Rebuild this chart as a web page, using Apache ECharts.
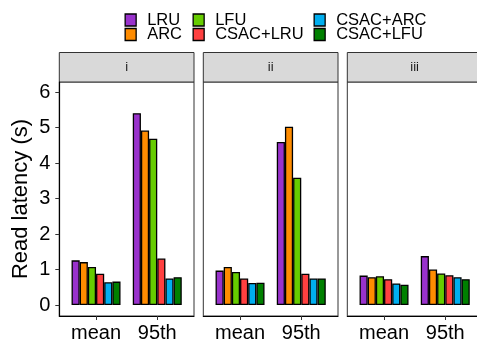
<!DOCTYPE html>
<html>
<head>
<meta charset="utf-8">
<script src="https://cdn.jsdelivr.net/npm/echarts@6/dist/echarts.min.js"></script>
<style>html,body{margin:0;padding:0;background:#fff;overflow:hidden}#c{width:477px;height:342px}</style>
</head>
<body>
<div id="c"></div>
<script>
const categories = ['mean', '95th'];
const panels = ['i', 'ii', 'iii'];
const seriesNames = ['LRU', 'ARC', 'LFU', 'CSAC+LRU', 'CSAC+ARC', 'CSAC+LFU'];
const seriesColors = ['#9932CC', '#FF8C00', '#66CC00', '#FF4040', '#00AEEF', '#008000'];
const yTicks = [0, 1, 2, 3, 4, 5, 6];
// values[panel] = [mean, 95th]
const LRU      = [[1.26, 5.41], [0.97, 4.60], [0.83, 1.38]];
const ARC      = [[1.21, 4.92], [1.07, 5.03], [0.785, 1.00]];
const LFU      = [[1.07, 4.69], [0.93, 3.59], [0.81, 0.89]];
const CSAC_LRU = [[0.88, 1.31], [0.75, 0.88], [0.73, 0.84]];
const CSAC_ARC = [[0.64, 0.75], [0.62, 0.75], [0.61, 0.785]];
const CSAC_LFU = [[0.66, 0.785], [0.63, 0.75], [0.57, 0.73]];
const seriesValues = [LRU, ARC, LFU, CSAC_LRU, CSAC_ARC, CSAC_LFU];

const FONT = 'Liberation Sans';
const panelLeft = [59.3, 203.3, 347.3];
const panelW = 134.7;
const panelTop = 82;
const panelH = 234;
const stripTop = 52.5;
const stripH = 29.5;

const grids = [], xAxes = [], yAxes = [], series = [], graphics = [];
panels.forEach((p, pi) => {
  grids.push({left: panelLeft[pi], top: panelTop, width: panelW, height: panelH,
    outerBoundsMode: 'none', containLabel: false,
    show: true, borderColor: '#333', borderWidth: 1, backgroundColor: '#fff'});
  xAxes.push({type: 'value', gridIndex: pi, min: 0.4, max: 2.6,
    axisLine: {show: true, onZero: false, lineStyle: {color: '#000', width: 1.2}},
    axisTick: {show: true, customValues: [1, 2], length: 4, lineStyle: {color: '#333', width: 1}},
    axisLabel: {show: true, customValues: [1, 2], margin: 7, fontFamily: FONT, fontSize: 20, color: '#000',
      formatter: v => categories[Math.round(v) - 1]},
    splitLine: {show: false}});
  yAxes.push({type: 'value', gridIndex: pi, min: -0.31, max: 6.29,
    name: pi === 0 ? 'Read latency (s)' : '', nameLocation: 'middle', nameGap: 27,
    nameTextStyle: {fontFamily: FONT, fontSize: 22, color: '#000'},
    axisLine: {show: pi === 0, onZero: false, lineStyle: {color: '#000', width: 1.2}},
    axisTick: {show: pi === 0, customValues: yTicks, length: 4, lineStyle: {color: '#333', width: 1}},
    axisLabel: {show: pi === 0, customValues: yTicks, margin: 9, fontFamily: FONT, fontSize: 20, color: '#000'},
    splitLine: {show: false}});
  seriesNames.forEach((name, si) => {
    series.push({type: 'bar', name: name, xAxisIndex: pi, yAxisIndex: pi,
      data: categories.map((c, ci) => [ci + 1, seriesValues[si][pi][ci]]),
      barGap: '0%', barCategoryGap: '20%',
      itemStyle: {color: seriesColors[si], borderColor: '#000', borderWidth: 1.3},
      emphasis: {disabled: true}, animation: false});
  });
  graphics.push({type: 'rect',
    shape: {x: panelLeft[pi], y: stripTop, width: panelW, height: stripH},
    style: {fill: '#d9d9d9', stroke: '#333', lineWidth: 1}});
  graphics.push({type: 'text', x: panelLeft[pi] + panelW / 2, y: stripTop + stripH / 2,
    style: {text: p, fontFamily: FONT, fontSize: 13, fill: '#1a1a1a', align: 'center', verticalAlign: 'middle'}});
});

const legendCols = [[0, 1], [2, 3], [4, 5]];
const legendLeft = [124.5, 192.5, 313.5];
const legends = legendCols.map((col, i) => ({
  data: col.map(k => seriesNames[k]), orient: 'vertical', left: legendLeft[i], top: 11.5,
  padding: 0, itemGap: -2.5, itemWidth: 11, itemHeight: 12, icon: 'rect',
  itemStyle: {borderColor: '#000', borderWidth: 1.3},
  textStyle: {fontFamily: FONT, fontSize: 16.5, color: '#000', padding: [0, 0, 0, 6]},
  selectedMode: false
}));

const chart = echarts.init(document.getElementById('c'), null, {renderer: 'canvas'});
chart.setOption({
  animation: false,
  backgroundColor: '#fff',
  grid: grids, xAxis: xAxes, yAxis: yAxes, series: series,
  legend: legends, graphic: graphics
});
</script>
</body>
</html>
